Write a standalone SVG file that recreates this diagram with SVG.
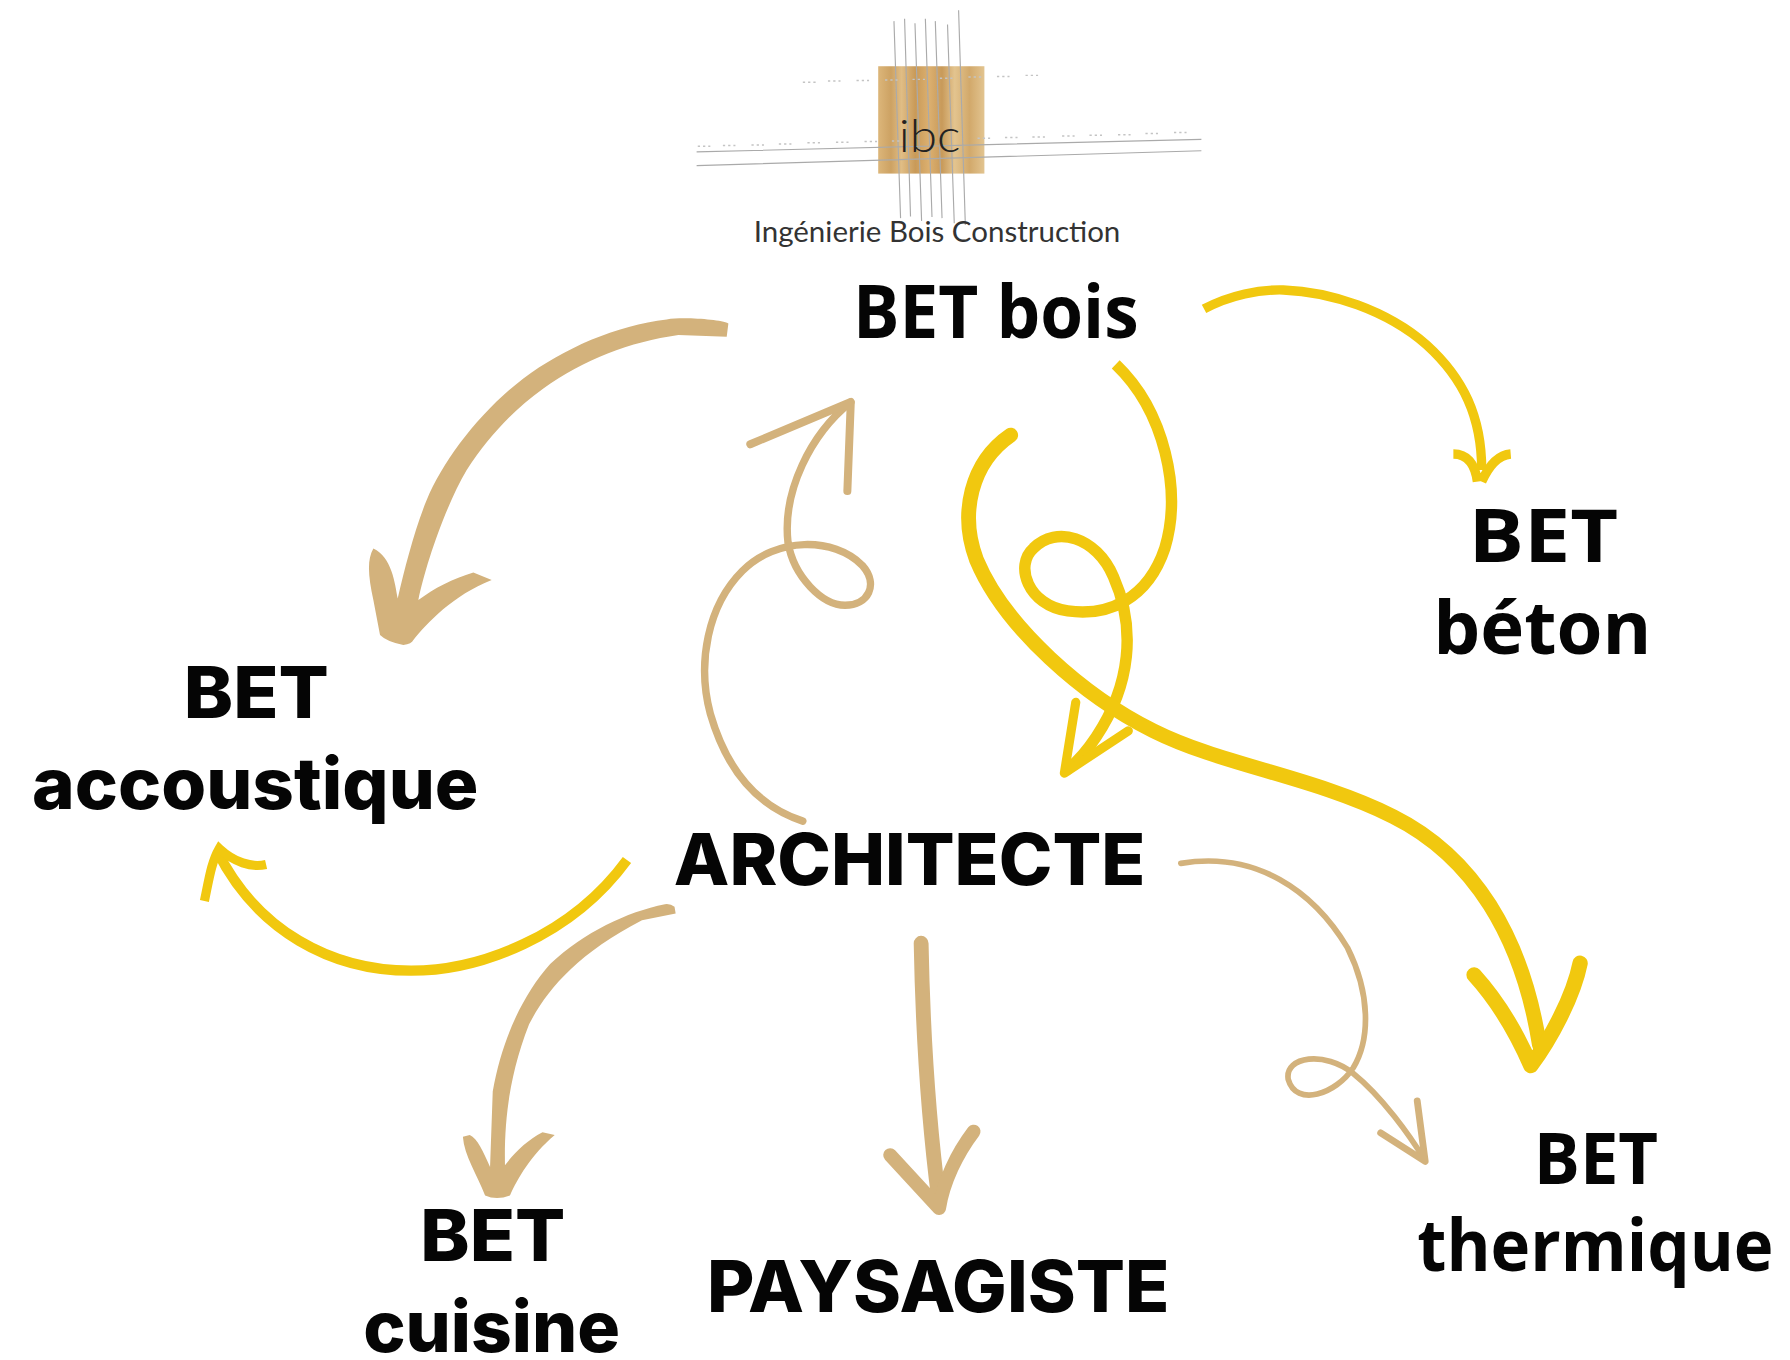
<svg xmlns="http://www.w3.org/2000/svg" width="1790" height="1360" viewBox="0 0 1790 1360">
<style>
.a{font-family:"Open Sans","Noto Sans",sans-serif;font-weight:700;fill:#050505;font-size:65px}
.m{font-family:Inter,"Liberation Sans",sans-serif;font-weight:800;fill:#050505;font-size:62px}
.y{fill:none;stroke:#f1c80f;stroke-linecap:round;stroke-linejoin:round}
.t{fill:none;stroke:#d3b27c;stroke-linecap:round;stroke-linejoin:round}
.b{stroke-linecap:butt;stroke-linejoin:miter}
.f{fill:#d3b27c}
.gl{stroke:#aaa;stroke-width:1;fill:none}
.dot{stroke:#c4c4c4;stroke-width:1.3;stroke-dasharray:2 2.6;fill:none}
.logo{font-family:Lato,"Liberation Sans",sans-serif;font-weight:400;fill:#333}
</style>
<defs>
<linearGradient id="wood" x1="0" y1="0" x2="1" y2="0">
<stop offset="0" stop-color="#dcb67a"/><stop offset=".12" stop-color="#cda263"/><stop offset=".22" stop-color="#e0bd85"/><stop offset=".35" stop-color="#c99a58"/><stop offset=".48" stop-color="#dcb070"/><stop offset=".6" stop-color="#c89a5a"/><stop offset=".72" stop-color="#e3c48f"/><stop offset=".86" stop-color="#d2a96b"/><stop offset="1" stop-color="#e2c490"/>
</linearGradient>
</defs>
<rect width="1790" height="1360" fill="#fff"/>
<g transform="scale(1.142)">
<g id="logo">
<rect x="769" y="58" width="93" height="94" fill="url(#wood)"/>
<path class="gl" d="M782.8,18.5L788.6,191M792.1,16.4L797.3,189.5M801.2,20.3L807,193.4M810.3,16.4L816.1,190M819,18.5L824.9,191M829.7,21.5L835.6,195.5M839.4,9L845.3,197M610,133L1052,122M610,145L1052,132"/>
<path class="dot" d="M703,72h12M725,71h11M750,70.500h11M775,70h11M799,69.500h11M823,68.500h11M848,67.500h12M873,67h11M898,66h11M611,128h11M633,127.500h11M658,127h11M682,126h11M707,125h11M732,124.500h11M757,124h11M781,123.500h11M856,121h11M880,120.500h11M904,120h11M930,119h11M954,118.500h11M979,118h11M1003,117h11M1028,116h11"/>
<text class="logo" x="787" y="133" font-size="40" textLength="54" lengthAdjust="spacingAndGlyphs" style="fill:#222;font-weight:300">ibc</text>
<text class="logo" x="660" y="212" font-size="26" textLength="321" lengthAdjust="spacingAndGlyphs">Ingénierie Bois Construction</text>
</g>
<g id="connectors">
<path class="f" transform="translate(306.5,254) scale(.2919)" d="M1135,100C1110,88 1000,80 950,88C800,105 640,175 520,265C390,365 280,510 230,630C195,715 165,830 143,925C135,880 125,800 70,775C50,810 55,860 70,930L90,1035Q110,1055 160,1065Q185,1062 190,1050C230,1000 310,915 425,870L370,847C310,865 250,895 205,930C225,830 285,650 350,540C415,440 490,360 580,295C700,210 840,155 985,135L1130,140Z"/>
<g transform="translate(1033.300,236.400) scale(.2919)">
<path class="y b" stroke-width="28" d="M72,117C150,75 240,58 310,60C450,65 620,120 740,225C850,325 905,440 905,600"/>
<path class="y b" stroke-width="28" d="M820,552C860,552 885,580 892,635M905,635C925,590 955,555 992,552"/>
</g>
<path class="y b" stroke-width="10" d="M977,319C1020,360 1035,430 1020,480C1005,525 970,540 935,535C900,530 888,495 905,480C925,460 960,470 975,505C995,550 990,600 960,645C950,660 940,670 933,675"/>
<path class="y" stroke-width="8" d="M942,615L932,677L988,640"/>
<path class="y" stroke-width="13" d="M885,381C850,405 840,450 855,490C880,550 950,610 1010,640C1070,670 1150,680 1220,715C1290,750 1333,820 1348,915"/>
<path class="y" transform="translate(1226,788) scale(.2919)" stroke-width="46" d="M222,225C290,300 350,400 392,497C450,420 520,290 540,190"/>
<path class="y b" stroke-width="9" d="M549,753C500,820 420,850 360,850C290,850 225,815 190,745"/>
<path class="y b" stroke-width="8" d="M179,789C183,770 185,755 192,743C205,755 220,760 233,757"/>
<path class="t" stroke-width="6.500" d="M703,719C660,705 635,670 622,625C610,580 620,530 650,500C680,470 730,470 755,495C770,512 760,530 740,530C720,530 695,505 690,475C685,430 710,380 745,352"/>
<path class="t" stroke-width="7" d="M657,389L745,352L742,430"/>
<path class="t" stroke-width="5" d="M1034,756C1100,745 1150,780 1180,830C1200,870 1200,910 1185,935C1170,958 1135,970 1128,945C1125,925 1160,920 1185,940C1210,960 1235,995 1247,1015"/>
<path class="t" stroke-width="6" d="M1209,992L1248,1017L1241,964"/>
<path class="f" transform="translate(367.800,779.400) scale(.3351,.2938)" d="M668,70L665,50Q655,40 640,42C540,65 430,125 340,220C270,310 215,440 190,600L183,825C165,780 150,740 130,730L112,735C115,790 150,850 170,910Q200,925 235,910C255,860 290,790 352,730L320,722C280,745 245,785 222,820C220,700 230,560 285,400C330,300 410,190 580,90Z"/>
<path class="t" stroke-width="13" d="M806.600,826C808,900 813,980 822,1050"/>
<path class="t" stroke-width="12" d="M779.400,1011.400L822.400,1058C826,1035 838,1010 852.600,990.800"/>
</g>
<g id="node-bet-bois"><text class="a" x="747" y="296" textLength="250" lengthAdjust="spacingAndGlyphs">BET bois</text></g>
<g id="node-bet-beton"><text class="a" x="1286" y="492" textLength="131" lengthAdjust="spacingAndGlyphs">BET</text><text class="a" x="1255" y="573" textLength="191" lengthAdjust="spacingAndGlyphs">béton</text></g>
<g id="node-bet-accoustique"><text class="m" x="161" y="629" textLength="127" lengthAdjust="spacingAndGlyphs">BET</text><text class="m" x="28" y="708" textLength="391" lengthAdjust="spacingAndGlyphs">accoustique</text></g>
<g id="node-architecte"><text class="m" x="590" y="775" textLength="413" lengthAdjust="spacingAndGlyphs">ARCHITECTE</text></g>
<g id="node-bet-cuisine"><text class="m" x="368" y="1104" textLength="127" lengthAdjust="spacingAndGlyphs">BET</text><text class="m" x="318" y="1184" textLength="225" lengthAdjust="spacingAndGlyphs">cuisine</text></g>
<g id="node-paysagiste"><text class="m" x="619" y="1149" textLength="405" lengthAdjust="spacingAndGlyphs">PAYSAGISTE</text></g>
<g id="node-bet-thermique"><text class="a" x="1343" y="1037" textLength="109" lengthAdjust="spacingAndGlyphs" style="font-size:63px">BET</text><text class="a" x="1241" y="1113" textLength="312" lengthAdjust="spacingAndGlyphs" style="font-size:63px">thermique</text></g>
</g>
</svg>
